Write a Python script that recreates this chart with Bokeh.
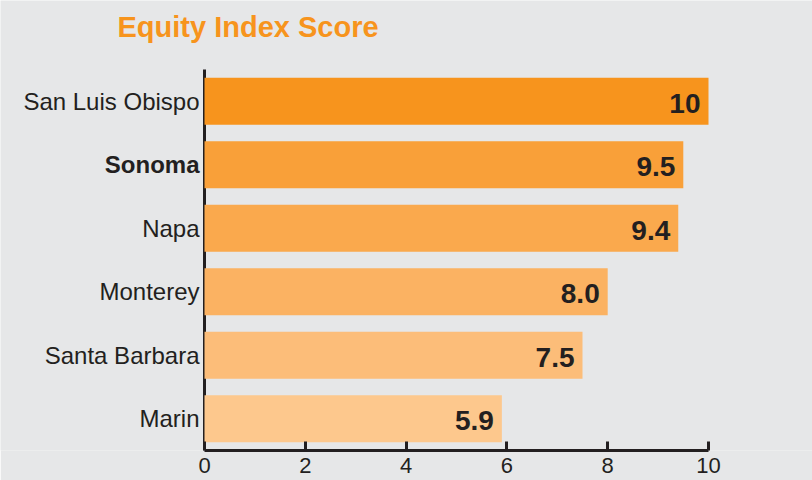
from bokeh.plotting import figure
from bokeh.models import ColumnDataSource, Range1d, FixedTicker, Label
from bokeh.core.properties import value
from bokeh.embed import file_html
from bokeh.resources import INLINE

# ---- data ----
title_text = "Equity Index Score"
counties = ["San Luis Obispo", "Sonoma", "Napa", "Monterey", "Santa Barbara", "Marin"]
scores = [10, 9.5, 9.4, 8.0, 7.5, 5.9]
score_labels = ["10", "9.5", "9.4", "8.0", "7.5", "5.9"]
label_styles = ["normal", "bold", "normal", "normal", "normal", "normal"]
bar_colors = ["#F7941D", "#F9A039", "#FAA94D", "#FBB262", "#FCBD79", "#FDC88D"]
x_ticks = [0, 2, 4, 6, 8, 10]
x_max = 10

n = len(counties)
ypos = [n - 1 - i for i in range(n)]

src = ColumnDataSource(dict(
    y=ypos, score=scores, county=counties, lab=score_labels,
    style=label_styles, color=bar_colors, zero=[0] * n,
))

FONT = "Liberation Sans"
INK = "#231f20"
BG = "#e6e7e8"
ORANGE = "#F7941D"

# ---- layout (pixels) ----
W, H = 812, 480
ZERO_PX = 204          # horizontal pixel of x = 0
AXIS_END_PX = 708      # horizontal pixel of x = x_max
BOTTOM_BORDER = 30     # x axis at y = 450
CAT_TOP_PX = 69        # top of the category band
frame_h = H - BOTTOM_BORDER
px_per_x = (AXIS_END_PX - ZERO_PX) / x_max
px_per_cat = (frame_h - CAT_TOP_PX) / n
x_start = -ZERO_PX / px_per_x
x_end = (W - ZERO_PX) / px_per_x
y_end = -0.5 + frame_h / px_per_cat

p = figure(width=W, height=H, x_range=Range1d(x_start, x_end), y_range=Range1d(-0.5, y_end),
           output_backend="svg", toolbar_location=None, title=None,
           min_border_left=0, min_border_right=0, min_border_top=0,
           min_border_bottom=BOTTOM_BORDER,
           background_fill_color=BG, border_fill_color=BG, outline_line_color=None)

# title
p.add_layout(Label(x=x_start + 117 / px_per_x, y=(n - 0.5) + (CAT_TOP_PX - 26) / px_per_cat,
                   text=title_text, text_font=FONT, text_font_size="29px",
                   text_font_style="bold", text_color=ORANGE,
                   text_align="left", text_baseline="alphabetic"))

# y axis line (drawn first, under the bars)
p.segment(x0=0, y0=-0.5, x1=0, y1=n - 0.5, line_color=INK, line_width=3)

p.hbar(y="y", left="zero", right="score", height=0.74, fill_color="color",
       line_color=None, source=src)

# category labels
p.text(x="zero", y="y", text="county", source=src, x_offset=-5,
       text_align="right", text_baseline="middle", text_font=value(FONT),
       text_font_size="24px", text_font_style="style", text_color=INK)

# value labels
p.text(x="score", y="y", text="lab", source=src, x_offset=-8, y_offset=2,
       text_align="right", text_baseline="middle", text_font=value(FONT),
       text_font_size="28px", text_font_style="bold", text_color=INK)

p.yaxis.visible = False
p.xgrid.visible = False
p.ygrid.visible = False

xa = p.xaxis[0]
xa.ticker = FixedTicker(ticks=x_ticks)
xa.bounds = (0, x_max)
xa.axis_line_color = INK
xa.axis_line_width = 3
xa.major_tick_line_color = INK
xa.major_tick_line_width = 3
xa.major_tick_in = 9
xa.major_tick_out = 0
xa.minor_tick_line_color = None
xa.major_label_text_font = FONT
xa.major_label_text_font_size = "22px"
xa.major_label_text_color = INK
xa.major_label_standoff = 7

open("out.html", "w").write(file_html(p, INLINE))
